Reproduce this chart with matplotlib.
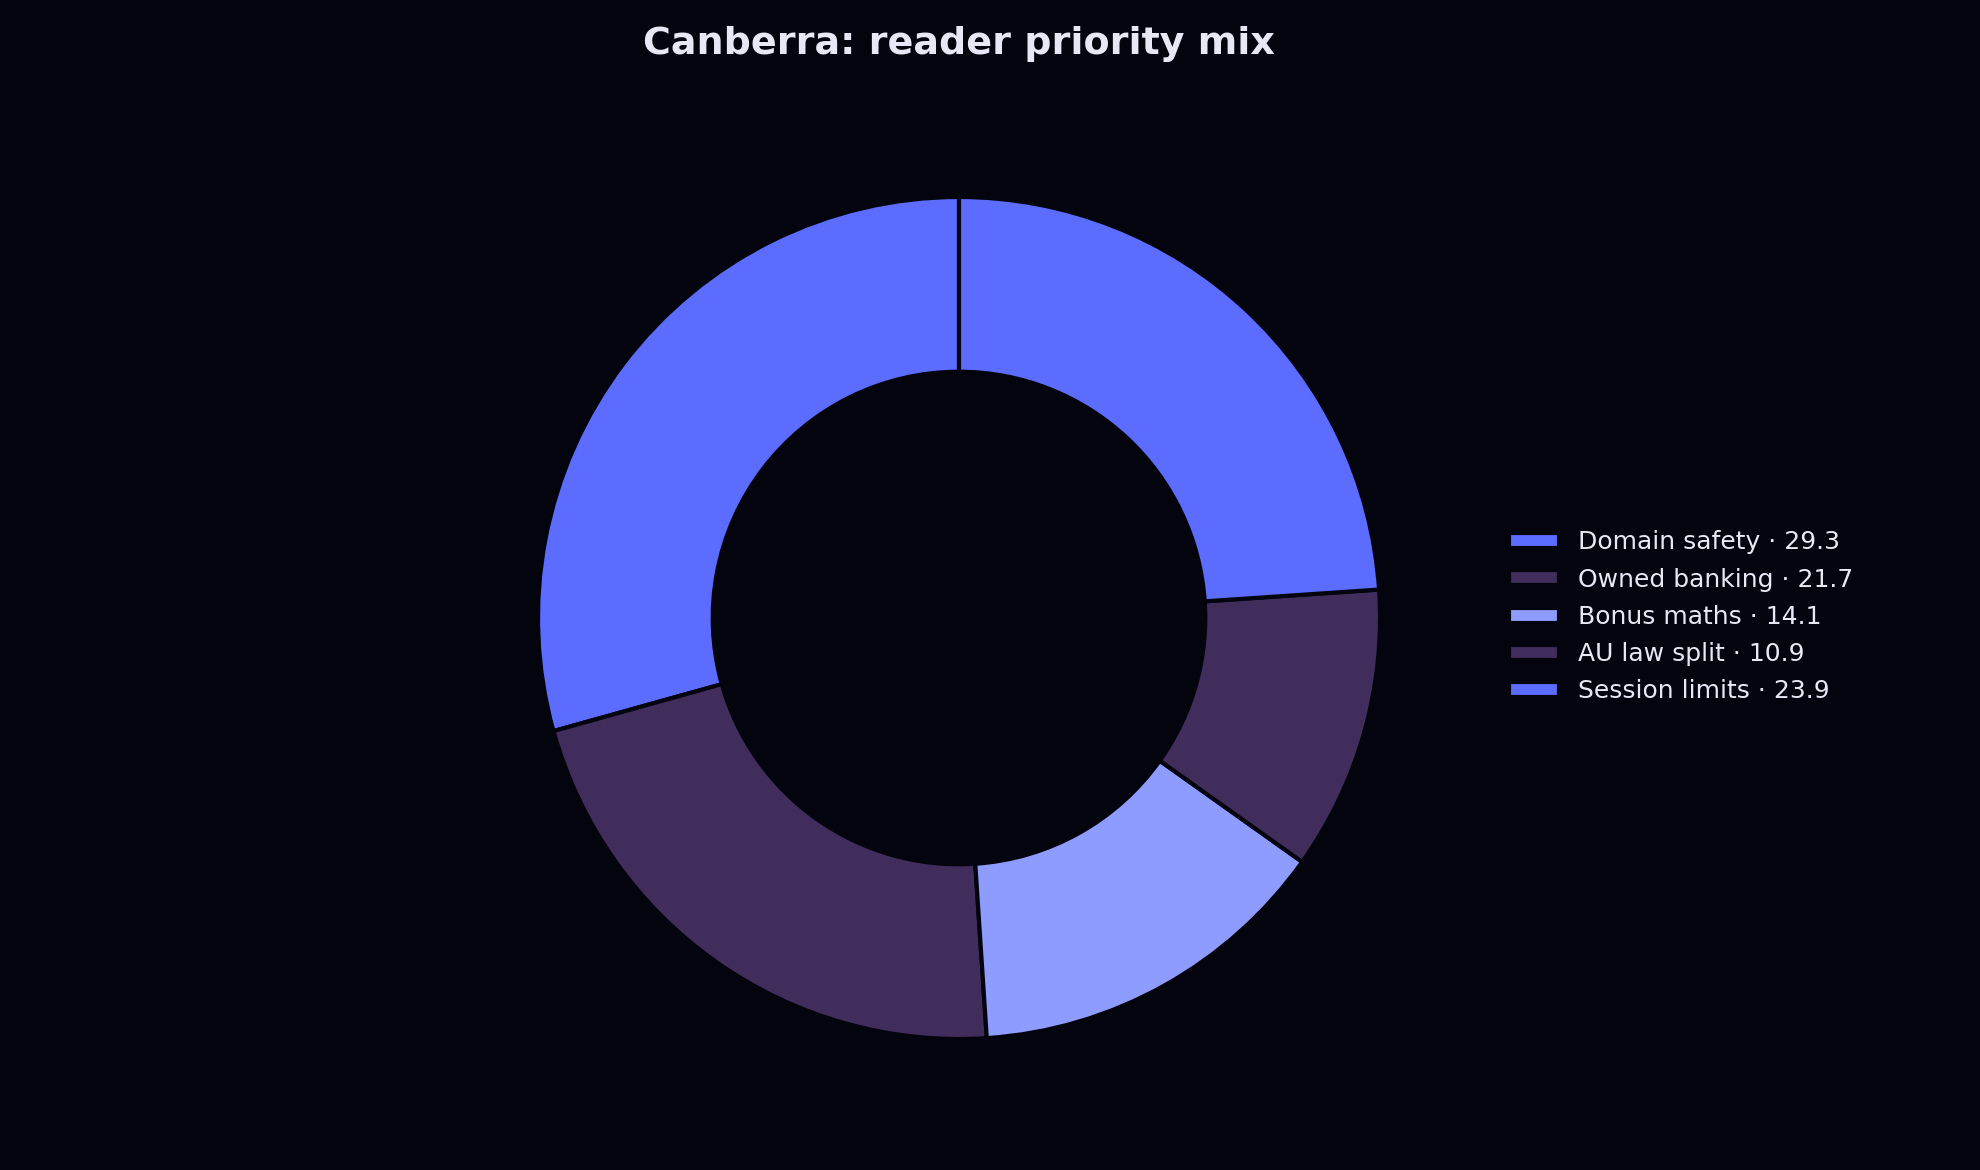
import matplotlib
matplotlib.use("Agg")
import matplotlib.pyplot as plt

categories = ["Domain safety", "Owned banking", "Bonus maths", "AU law split", "Session limits"]
values = [29.3, 21.7, 14.1, 10.9, 23.9]
colors = ["#5b6cff", "#402d5c", "#8f9cff", "#402d5c", "#5b6cff"]

BG = "#03040e"
TXT = "#e6e8f6"

W, H = 1980, 1170
fig = plt.figure(figsize=(W / 100, H / 100), dpi=100, facecolor=BG)

cx, cy, r = 959, 1170 - 618, 421
half = 1.25 * r
ax = fig.add_axes([(cx - half) / W, (cy - half) / H, 2 * half / W, 2 * half / H])
ax.set_facecolor(BG)

wedges, _ = ax.pie(values, colors=colors, startangle=90, counterclock=True,
                   wedgeprops=dict(width=0.415, edgecolor=BG, linewidth=3))
ax.set_xlim(-1.25, 1.25)
ax.set_ylim(-1.25, 1.25)
ax.set_aspect("equal")
ax.axis("off")

labels = [f"{c} \u00b7 {v}" for c, v in zip(categories, values)]
leg = fig.legend(wedges, labels, loc="center left",
                 bbox_to_anchor=(1486 / W, 1 - 617 / H), frameon=False,
                 fontsize=18, labelcolor=TXT, handlelength=2.0,
                 handleheight=0.55, handletextpad=0.8, labelspacing=0.53)

fig.suptitle("Canberra: reader priority mix", x=cx / W, y=1 - 44 / H, va="center",
             fontsize=27.4, fontweight="bold", color=TXT)

fig.savefig("out.png", dpi=100, facecolor=BG)
